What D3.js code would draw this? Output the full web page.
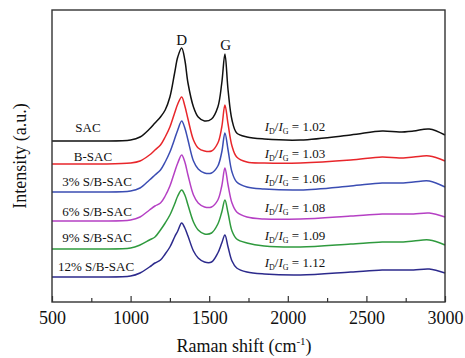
<!DOCTYPE html>
<html>
<head>
<meta charset="utf-8">
<script src="https://cdn.jsdelivr.net/npm/d3@7"></script>
<style>
  body { margin: 0; background: #fff; }
  text { font-family: "Liberation Serif", "Times New Roman", serif; fill: #111; }
</style>
</head>
<body>
<div id="chart"></div>
<script>
// Raman shift grid (cm-1)
const shift = [500, 800, 1000, 1060, 1120, 1155, 1190, 1220, 1250, 1280, 1300, 1325, 1345, 1365, 1400, 1430, 1470,
  1515, 1555, 1580, 1600, 1620, 1645, 1675, 1740, 1850, 2080, 2400, 2600, 2710, 2800, 2900, 3000];

const samples = ["SAC", "B-SAC", "3% S/B-SAC", "6% S/B-SAC", "9% S/B-SAC", "12% S/B-SAC"];
const ratios = ["1.02", "1.03", "1.06", "1.08", "1.09", "1.12"];
const offsets = [161, 138, 110, 81, 53, 25];
const colors = ["#111111", "#e8262b", "#3b4db3", "#b540c4", "#2f9a3e", "#2c2a8c"];

// intensities above each curve's own baseline (a.u.)
const sac = [0, 0, 1, 4, 12, 18, 24, 31, 44, 68, 84, 93, 81, 58, 34, 24, 20, 22, 34, 58, 87, 51, 21, 8, 4, 2, 1, 6, 10, 9, 10, 12, 6];
const bsac = [0, 0, 1, 3, 9, 14, 19, 27, 37, 51, 60, 67, 58, 45, 24, 16, 13, 13, 21, 37, 59, 40, 18, 7, 2, 1, 1, 4, 7, 6, 7, 8, 3];
const s3 = [0, 0, 1, 4, 12, 17, 22, 30, 40, 53, 62, 71, 64, 52, 31, 23, 19, 19, 26, 40, 59, 42, 20, 10, 5, 3, 2, 6, 9, 9, 10, 11, 5];
const s6 = [0, 0, 1, 4, 11, 15, 18, 25, 35, 49, 58, 66, 59, 46, 26, 18, 14, 14, 21, 35, 53, 36, 18, 9, 4, 2, 2, 5, 7, 7, 7, 8, 4];
const s9 = [0, 0, 1, 4, 9, 12, 19, 26, 34, 45, 53, 59, 54, 44, 27, 19, 15, 16, 25, 37, 49, 36, 18, 10, 6, 3, 2, 5, 7, 7, 8, 9, 4];
const s12 = [0, 0, 1, 4, 10, 14, 17, 23, 30, 40, 46, 54, 49, 41, 26, 19, 15, 15, 24, 34, 42, 30, 16, 9, 5, 3, 2, 5, 7, 7, 7, 8, 4];
const spectra = [sac, bsac, s3, s6, s9, s12];

const width = 465, height = 358;
const margin = { top: 10, right: 20, bottom: 56, left: 52 };

const svg = d3.select("#chart")
    .append("svg")
    .attr("width", width)
    .attr("height", height);

const x = d3.scaleLinear()
    .domain([500, 3000])
    .range([margin.left, width - margin.right]);

const y = d3.scaleLinear()
    .domain([0, 292])
    .range([height - margin.bottom, margin.top]);

const line = d3.line()
    .x(d => x(d[0]))
    .y(d => y(d[1]))
    .curve(d3.curveCatmullRom.alpha(0.5));

spectra.forEach((vals, i) => {
    const pts = shift.map((s, j) => [s, offsets[i] + vals[j]]);
    svg.append("path")
        .datum(pts)
        .attr("fill", "none")
        .attr("stroke", colors[i])
        .attr("stroke-width", 1.5)
        .attr("d", line);
});

// sample names
const nameX = [88, 93, 97, 97, 97, 96];
const nameGap = [9, 3, 6, 5, 7, 6];
samples.forEach((s, i) => {
    svg.append("text")
        .attr("x", nameX[i])
        .attr("y", y(offsets[i]) - nameGap[i])
        .attr("text-anchor", "middle")
        .style("font-size", "13px")
        .text(s);
});

// ID/IG ratios
const ratioGap = [10, 6, 9, 9, 9, 10];
ratios.forEach((r, i) => {
    const t = svg.append("text")
        .attr("x", x(1853))
        .attr("y", y(offsets[i]) - ratioGap[i])
        .style("font-size", "13px");
    t.append("tspan").style("font-style", "italic").text("I");
    t.append("tspan").attr("dy", 3).style("font-size", "8px").text("D");
    t.append("tspan").attr("dy", -3).text("/");
    t.append("tspan").style("font-style", "italic").text("I");
    t.append("tspan").attr("dy", 3).style("font-size", "8px").text("G");
    t.append("tspan").attr("dy", -3).text(" = " + r);
});

// D and G band labels
svg.append("text")
    .attr("x", x(1325))
    .attr("y", y(offsets[0] + 93) - 3)
    .attr("text-anchor", "middle")
    .style("font-size", "15px")
    .text("D");
svg.append("text")
    .attr("x", x(1605))
    .attr("y", y(offsets[0] + 87) - 4)
    .attr("text-anchor", "middle")
    .style("font-size", "15px")
    .text("G");

// frame
svg.append("rect")
    .attr("x", margin.left)
    .attr("y", margin.top)
    .attr("width", width - margin.left - margin.right)
    .attr("height", height - margin.top - margin.bottom)
    .attr("fill", "none")
    .attr("stroke", "#333")
    .attr("stroke-width", 1.4);

// X axis, ticks inward
const xAxis = svg.append("g")
    .attr("transform", `translate(0,${height - margin.bottom})`)
    .call(d3.axisBottom(x)
        .tickValues([500, 1000, 1500, 2000, 2500, 3000])
        .tickFormat(d3.format("d"))
        .tickSizeInner(-6)
        .tickSizeOuter(0)
        .tickPadding(9));
xAxis.select(".domain").remove();
xAxis.selectAll("text")
    .style("font-size", "18px")
    .style("font-family", "Liberation Serif");
xAxis.selectAll("line").attr("stroke", "#333").attr("stroke-width", 1.2);

const xMinor = svg.append("g")
    .attr("transform", `translate(0,${height - margin.bottom})`)
    .call(d3.axisBottom(x)
        .tickValues([750, 1250, 1750, 2250, 2750])
        .tickSizeInner(-4)
        .tickSizeOuter(0)
        .tickFormat(""));
xMinor.select(".domain").remove();
xMinor.selectAll("line").attr("stroke", "#333").attr("stroke-width", 1.2);

// X Axis Label
const xt = svg.append("text")
    .attr("x", 244)
    .attr("y", 352)
    .attr("text-anchor", "middle")
    .style("font-size", "18px");
xt.append("tspan").text("Raman shift (cm");
xt.append("tspan").attr("dy", -7).style("font-size", "11px").text("-1");
xt.append("tspan").attr("dy", 7).text(")");

// Y Axis Label
svg.append("text")
    .attr("transform", "translate(26,156) rotate(-90)")
    .attr("text-anchor", "middle")
    .style("font-size", "18px")
    .text("Intensity (a.u.)");
</script>
</body>
</html>
